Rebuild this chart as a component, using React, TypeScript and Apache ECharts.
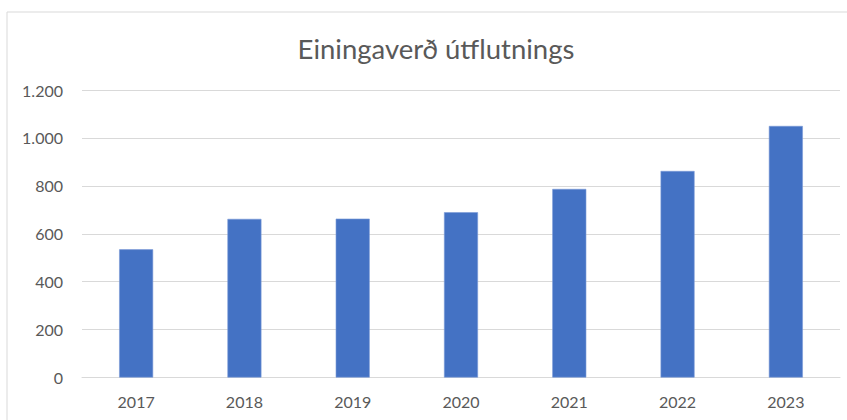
import React, { useEffect, useRef } from "react";
import * as echarts from "echarts";

const titleText = "Einingaverð útflutnings";
const years = ["2017", "2018", "2019", "2020", "2021", "2022", "2023"];
const unitPrice = [535, 662, 663, 690, 787, 862, 1050];
const yTicks = { min: 0, max: 1200, interval: 200 };

const fmt = (v: number) => String(v).replace(/\B(?=(\d{3})+(?!\d))/g, ".");

export default function App() {
  const ref = useRef<HTMLDivElement>(null);
  useEffect(() => {
    if (!ref.current) return;
    const chart = echarts.init(ref.current, undefined, { renderer: "svg" });
    chart.setOption({
      animation: false,
      backgroundColor: "#ffffff",
      title: {
        text: titleText,
        left: 431,
        top: 29,
        textAlign: "center",
        textStyle: { fontFamily: "Lato", fontSize: 27.5, fontWeight: "normal", color: "#595959" },
      },
      graphic: [
        {
          type: "rect",
          shape: { x: 7, y: 12, width: 900, height: 450 },
          style: { fill: "none", stroke: "#d9d9d9", lineWidth: 1 },
          silent: true,
        },
      ],
      grid: { left: 82, right: 7, top: 90, bottom: 42.5 },
      xAxis: {
        type: "category",
        data: years,
        axisLine: { show: true, lineStyle: { color: "#d9d9d9" } },
        axisTick: { show: false },
        axisLabel: { color: "#595959", fontFamily: "Lato", fontSize: 16, margin: 16 },
      },
      yAxis: {
        type: "value",
        min: yTicks.min,
        max: yTicks.max,
        interval: yTicks.interval,
        axisLine: { show: false },
        axisTick: { show: false },
        splitLine: { lineStyle: { color: "#d9d9d9", width: 1 } },
        axisLabel: {
          color: "#595959",
          fontFamily: "Lato",
          fontSize: 16,
          margin: 19,
          formatter: (v: number) => fmt(v),
        },
      },
      series: [
        {
          type: "bar",
          data: unitPrice,
          barWidth: 34,
          itemStyle: { color: "#4472C4", borderColor: "#7a9ad6", borderWidth: 0.6 },
        },
      ],
    });
    return () => chart.dispose();
  }, []);
  return (
    <div
      ref={ref}
      style={{ position: "fixed", left: 0, top: 0, width: 847, height: 420 }}
    />
  );
}
